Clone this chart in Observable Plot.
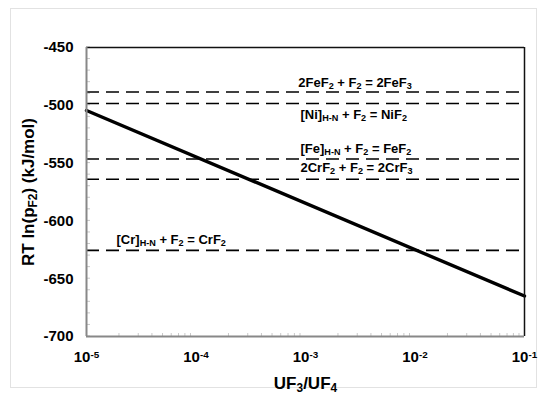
<!DOCTYPE html>
<html>
<head>
<meta charset="utf-8">
<script src="https://cdn.jsdelivr.net/npm/d3@7"></script>
<script src="https://cdn.jsdelivr.net/npm/@observablehq/plot@0.6"></script>
<style>
  html, body { margin: 0; padding: 0; background: #fff; }
  #wrap { position: relative; width: 550px; height: 401px; }
  #border { position: absolute; left: 10px; top: 8px; width: 527px; height: 380px; border: 1px solid #e2e2e2; box-sizing: border-box; }
  svg { position: absolute; left: 0; top: 0; font-family: "Liberation Sans", Arial, sans-serif; }
</style>
</head>
<body>
<div id="wrap"><div id="border"></div></div>
<script>
// ---- data ----
const ratioValues = [1e-5, 1e-1];                 // UF3/UF4
const rtLnValues = [-504.5, -665];                // RT ln(pF2) kJ/mol
const reactionLabels = [
  "2FeF_{2} + F_{2} = 2FeF_{3}",
  "[Ni]_{H-N} + F_{2} = NiF_{2}",
  "[Fe]_{H-N} + F_{2} = FeF_{2}",
  "2CrF_{2} + F_{2} = 2CrF_{3}",
  "[Cr]_{H-N} + F_{2} = CrF_{2}"
];
const reactionValues = [-488.5, -498.5, -546.5, -564, -625.5];
const labelX = [8.6e-4, 9e-4, 9e-4, 9e-4, 1.88e-5];
const labelY = [-480.5, -508, -538, -554, -616.5];
const xTicks = [1e-5, 1e-4, 1e-3, 1e-2, 1e-1];
const xTickLabels = ["10^{-5}", "10^{-4}", "10^{-3}", "10^{-2}", "10^{-1}"];
const yTicks = [-450, -500, -550, -600, -650, -700];

const lineData = ratioValues.map((x, i) => ({x, y: rtLnValues[i]}));
const reactions = reactionLabels.map((t, i) => ({t, y: reactionValues[i], lx: labelX[i], ly: labelY[i]}));
const yMinor = d3.range(-700, -449, 10);
const xMinor = [];
for (let e = -5; e < -1; e++) for (let k = 2; k <= 9; k++) xMinor.push(k * Math.pow(10, e));

const plot = Plot.plot({
  width: 550, height: 401,
  marginLeft: 86, marginRight: 26, marginTop: 47, marginBottom: 65,
  x: {type: "log", domain: [1e-5, 1e-1], axis: null},
  y: {domain: [-700, -450], axis: null},
  marks: [
    Plot.ruleY(reactions, {y: "y", stroke: "#000", strokeWidth: 1.6, strokeDasharray: "13,7"}),
    Plot.line(lineData, {x: "x", y: "y", stroke: "#000", strokeWidth: 3.4}),
    // frame
    Plot.ruleX([1e-1], {stroke: "#111", strokeWidth: 1.5}),
    Plot.ruleY([-450], {stroke: "#111", strokeWidth: 1.5}),
    Plot.ruleX([1e-5], {stroke: "#888", strokeWidth: 2}),
    Plot.ruleY([-700], {stroke: "#888", strokeWidth: 2}),
    // reaction labels
    Plot.text(reactions, {x: "lx", y: "ly", text: "t", textAnchor: "start", fontSize: 13, fontWeight: "bold", fill: "#000"}),
    // y tick labels
    Plot.text(yTicks, {x: 1e-5, y: d => d, text: d => String(d), textAnchor: "end", dx: -13, fontSize: 15, fontWeight: "bold", fill: "#000"}),
    // x tick labels
    Plot.text(xTicks, {x: d => d, y: -700, text: (d, i) => xTickLabels[i], dy: 21, fontSize: 15, fontWeight: "bold", fill: "#000"}),
    // axis titles
    Plot.text(["UF_{3}/UF_{4}"], {x: Math.sqrt(1e-5 * 1e-1), y: -700, dy: 47, fontSize: 17, fontWeight: "bold", fill: "#000"}),
    Plot.text(["RT ln(p_{F2}) (kJ/mol)"], {x: 1e-5, y: -575, dx: -58, rotate: -90, fontSize: 17, fontWeight: "bold", fill: "#000"})
  ]
});

const sx = plot.scale("x"), sy = plot.scale("y");
const svg = d3.select(plot);
const g = svg.insert("g", ":first-child").attr("stroke", "#c8c8c8").attr("stroke-width", 1);
const x0 = sx.apply(1e-5), y0 = sy.apply(-700);
yMinor.forEach(v => g.append("line").attr("x1", x0).attr("x2", x0 + 4).attr("y1", sy.apply(v)).attr("y2", sy.apply(v)));
xMinor.forEach(v => g.append("line").attr("x1", sx.apply(v)).attr("x2", sx.apply(v)).attr("y1", y0).attr("y2", y0 - 3));

// convert _{..} and ^{..} markup into tspans
svg.selectAll("text").each(function() {
  const el = this;
  const txt = el.textContent;
  if (!/[_^]\{/.test(txt)) return;
  const fs = parseFloat(el.getAttribute("font-size") || el.parentNode.getAttribute("font-size") || 12);
  while (el.firstChild) el.removeChild(el.firstChild);
  const re = /([_^])\{([^}]*)\}/g;
  let last = 0, m;
  const ns = "http://www.w3.org/2000/svg";
  const add = (s, kind) => {
    const t = document.createElementNS(ns, "tspan");
    t.textContent = s;
    if (kind === "_") { t.setAttribute("baseline-shift", "-25%"); t.setAttribute("font-size", (fs * 0.7).toFixed(1)); }
    if (kind === "^") { t.setAttribute("baseline-shift", "40%"); t.setAttribute("font-size", (fs * 0.66).toFixed(1)); }
    el.appendChild(t);
  };
  while ((m = re.exec(txt))) {
    if (m.index > last) add(txt.slice(last, m.index), null);
    add(m[2], m[1]);
    last = re.lastIndex;
  }
  if (last < txt.length) add(txt.slice(last), null);
});

document.getElementById("wrap").appendChild(plot);
</script>
</body>
</html>
